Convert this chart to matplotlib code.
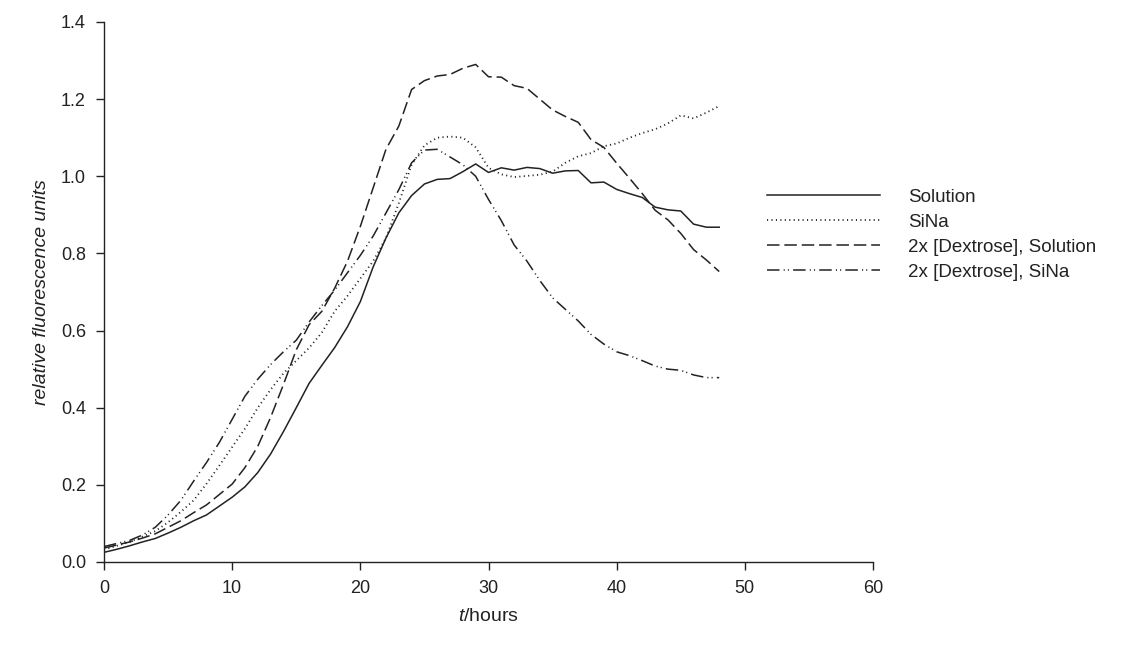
import numpy as np
import matplotlib
matplotlib.use("Agg")
import matplotlib.pyplot as plt

plt.rcParams["font.family"] = ["Liberation Sans", "DejaVu Sans"]
plt.rcParams["mathtext.fontset"] = "custom"
plt.rcParams["mathtext.rm"] = "Liberation Sans"
plt.rcParams["mathtext.it"] = "Liberation Sans:italic"
plt.rcParams["lines.scale_dashes"] = False

# ---- data (hourly samples) ----
hours = list(range(0, 49))

solution = [0.025, 0.033, 0.042, 0.052, 0.061, 0.075, 0.090, 0.107, 0.122, 0.145,
            0.168, 0.195, 0.232, 0.280, 0.338, 0.400, 0.463, 0.510, 0.556, 0.610,
            0.675, 0.765, 0.840, 0.905, 0.950, 0.980, 0.992, 0.994, 1.012, 1.032,
            1.010, 1.022, 1.016, 1.023, 1.020, 1.008, 1.014, 1.015, 0.983, 0.985,
            0.966, 0.955, 0.945, 0.920, 0.913, 0.910, 0.876, 0.868, 0.868]

sina = [0.032, 0.042, 0.052, 0.066, 0.080, 0.103, 0.130, 0.160, 0.203, 0.250,
        0.298, 0.346, 0.400, 0.447, 0.489, 0.522, 0.555, 0.595, 0.650, 0.690,
        0.735, 0.780, 0.840, 0.930, 1.030, 1.080, 1.100, 1.103, 1.100, 1.075,
        1.022, 1.005, 0.998, 1.001, 1.004, 1.012, 1.035, 1.052, 1.060, 1.078,
        1.085, 1.100, 1.112, 1.122, 1.137, 1.158, 1.150, 1.165, 1.182]

dex_solution = [0.036, 0.044, 0.052, 0.062, 0.073, 0.090, 0.107, 0.128, 0.148, 0.175,
                0.202, 0.245, 0.300, 0.375, 0.460, 0.550, 0.615, 0.650, 0.710, 0.780,
                0.870, 0.970, 1.070, 1.130, 1.225, 1.248, 1.260, 1.264, 1.280, 1.290,
                1.258, 1.257, 1.235, 1.228, 1.200, 1.172, 1.155, 1.140, 1.095, 1.075,
                1.034, 0.995, 0.955, 0.912, 0.887, 0.852, 0.810, 0.783, 0.753]

dex_sina = [0.040, 0.048, 0.056, 0.070, 0.090, 0.122, 0.160, 0.210, 0.258, 0.310,
            0.370, 0.430, 0.474, 0.512, 0.545, 0.575, 0.622, 0.665, 0.705, 0.750,
            0.795, 0.845, 0.905, 0.965, 1.035, 1.068, 1.070, 1.050, 1.030, 1.000,
            0.940, 0.885, 0.822, 0.780, 0.730, 0.685, 0.655, 0.625, 0.590, 0.565,
            0.545, 0.535, 0.522, 0.508, 0.500, 0.497, 0.485, 0.478, 0.478]

labels = ["Solution", "SiNa", "2x [Dextrose], Solution", "2x [Dextrose], SiNa"]

# ---- figure ----
fig = plt.figure(figsize=(11.25, 6.47), dpi=100)
ax = fig.add_axes([104 / 1125, 1 - 562 / 647, (873 - 104) / 1125, (562 - 22) / 647])

C_LINE = "#222222"
lw = 1.1
ax.plot(hours, solution, color=C_LINE, lw=lw, label=labels[0])
ax.plot(hours, sina, color=C_LINE, lw=1.3, dashes=(0.8, 2.4), label=labels[1])
ax.plot(hours, dex_solution, color=C_LINE, lw=lw, dashes=(9, 3.5), label=labels[2])
ax.plot(hours, dex_sina, color=C_LINE, lw=lw, dashes=(9, 3, 0.8, 2.2, 0.8, 3), label=labels[3])

ax.set_xlim(0, 60)
ax.set_ylim(0, 1.4)
ax.set_xticks(np.arange(0, 61, 10))
ax.set_yticks(np.arange(0, 1.41, 0.2))
ax.yaxis.set_major_formatter(matplotlib.ticker.FormatStrFormatter("%.1f"))

for s in ["top", "right"]:
    ax.spines[s].set_visible(False)
for s in ["left", "bottom"]:
    ax.spines[s].set_color(C_LINE)
    ax.spines[s].set_linewidth(1.0)

ax.tick_params(direction="out", length=6, width=1.0, color=C_LINE,
               labelsize=13, labelcolor="#222222", pad=7)

ax.set_xlabel(r"$t$/hours", fontsize=14, color="#222222", labelpad=8)
ax.set_ylabel("relative fluorescence units", fontsize=14, style="italic",
              color="#222222", labelpad=8)

leg = ax.legend(loc="center left", bbox_to_anchor=(767 / 1125, 1 - 234.5 / 647),
                bbox_transform=fig.transFigure, frameon=False, fontsize=13.5,
                handlelength=6.0, handletextpad=1.5, labelspacing=0.42,
                borderpad=0, borderaxespad=0)
for t in leg.get_texts():
    t.set_color("#222222")

fig.savefig("out.png", dpi=100)
